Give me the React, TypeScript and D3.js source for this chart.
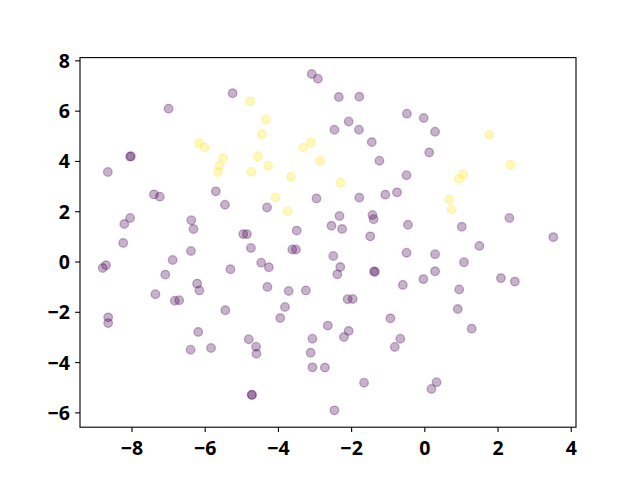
import React from "react";
import * as d3 from "d3";

const purpleX = [-5.25,-7.0,-8.05,-8.03,-8.66,-3.09,-2.92,-2.35,-1.79,-0.49,-2.08,-2.47,-1.8,-1.45,-1.24,-0.5,-0.03,0.28,0.12,2.31,1.01,3.51,1.49,0.28,1.07,0.28,-0.04,2.08,2.46,0.94,0.9,1.28,0.32,0.18,-7.4,-7.24,-5.71,-5.46,-8.05,-8.21,-6.38,-6.32,-4.96,-4.86,-8.24,-6.39,-6.89,-8.71,-8.8,-7.09,-5.31,-6.22,-6.16,-7.36,-6.83,-6.71,-4.31,-2.96,-1.79,-1.08,-0.76,-2.33,-1.43,-1.4,-0.46,-2.55,-2.26,-3.5,-1.49,-4.75,-3.62,-3.52,-2.5,-0.5,-4.47,-4.26,-2.31,-2.39,-1.39,-1.36,-0.6,-4.3,-3.72,-3.25,-2.11,-1.97,-3.82,-3.95,-4.81,-4.61,-4.6,-4.73,-4.72,-2.65,-3.07,-2.08,-2.21,-3.12,-3.07,-2.73,-1.66,-2.47,-0.94,-0.67,-0.82,-8.65,-8.65,-5.45,-6.19,-6.4,-5.84];
const purpleY = [6.71,6.1,4.19,4.21,3.58,7.48,7.29,6.56,6.57,5.9,5.59,5.26,5.26,4.77,4.03,3.45,5.73,5.18,4.36,1.75,1.4,0.99,0.64,0.31,-0.01,-0.37,-0.68,-0.64,-0.78,-1.09,-1.87,-2.65,-4.78,-5.05,2.69,2.6,2.81,2.28,1.75,1.51,1.66,1.31,1.11,1.11,0.76,0.44,0.08,-0.13,-0.24,-0.5,-0.29,-0.86,-1.13,-1.28,-1.54,-1.52,2.17,2.53,2.56,2.68,2.77,1.83,1.87,1.7,1.48,1.44,1.31,1.25,1.02,0.56,0.5,0.5,0.24,0.37,-0.03,-0.21,-0.2,-0.49,-0.38,-0.39,-0.91,-0.99,-1.15,-1.13,-1.48,-1.47,-1.79,-2.23,-3.07,-3.37,-3.65,-5.28,-5.29,-2.53,-3.05,-2.74,-2.98,-3.61,-4.19,-4.2,-4.8,-5.9,-2.24,-3.05,-3.38,-2.2,-2.43,-1.92,-2.78,-3.49,-3.42];
const yellowX = [-6.17,-6.02,-5.51,-5.61,-5.65,-4.77,-4.34,-4.45,-3.11,-3.32,-4.56,-4.28,-4.74,-2.86,-3.65,-2.3,-4.08,-3.75,1.76,2.34,1.05,0.93,0.67,0.73];
const yellowY = [4.73,4.56,4.14,3.83,3.57,6.39,5.67,5.08,4.76,4.56,4.2,3.83,3.59,4.03,3.38,3.15,2.57,2.02,5.06,3.87,3.49,3.31,2.49,2.1];
const xTicks = [-8, -6, -4, -2, 0, 2, 4];
const yTicks = [-6, -4, -2, 0, 2, 4, 6, 8];

const W = 640, H = 480;
const L = 80, R = 576, T = 57.6, B = 427.2;

export default function App() {
  const x = d3.scaleLinear().domain([-9.42, 4.13]).range([L, R]);
  const y = d3.scaleLinear().domain([-6.57, 8.13]).range([B, T]);
  const pts = [
    ...purpleX.map((v, i) => ({ x: v, y: purpleY[i], c: "#440154" })),
    ...yellowX.map((v, i) => ({ x: v, y: yellowY[i], c: "#fde725" })),
  ];
  const font = "'Noto Sans', sans-serif";
  const fmt = (t: number) => (t < 0 ? "\u2212" + Math.abs(t) : String(t));
  return (
    <svg width={W} height={H} style={{ position: "absolute", left: 0, top: 0, background: "#fff" }}>
      <rect x={0} y={0} width={W} height={H} fill="#fff" />
      {pts.map((p, i) => (
        <circle key={i} cx={x(p.x)} cy={y(p.y)} r={4.3} fill={p.c} fillOpacity={0.3}
          stroke={p.c} strokeOpacity={0.3} strokeWidth={1.3} />
      ))}
      <rect x={L} y={T} width={R - L} height={B - T} fill="none" stroke="#000" strokeWidth={1.1} />
      {xTicks.map((t) => (
        <g key={"x" + t}>
          <line x1={x(t)} x2={x(t)} y1={B} y2={B + 4.9} stroke="#000" strokeWidth={1.1} />
          <text x={x(t)} y={455} textAnchor="middle" fontFamily={font} fontWeight="bold" fontSize={19.5}>{fmt(t)}</text>
        </g>
      ))}
      {yTicks.map((t) => (
        <g key={"y" + t}>
          <line x1={L - 4.9} x2={L} y1={y(t)} y2={y(t)} stroke="#000" strokeWidth={1.1} />
          <text x={70} y={y(t)} dy="0.36em" textAnchor="end" fontFamily={font} fontWeight="bold" fontSize={19.5}>{fmt(t)}</text>
        </g>
      ))}
    </svg>
  );
}
